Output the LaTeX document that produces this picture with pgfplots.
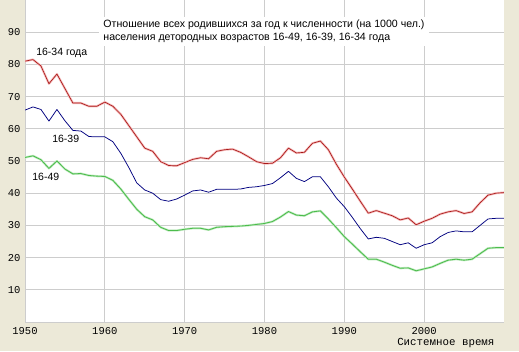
\documentclass[border=0pt]{standalone}
\usepackage{fontspec}
\setmainfont{Liberation Sans}
\setmonofont{Liberation Mono}
\usepackage{pgfplots}
\pgfplotsset{compat=1.18}
\usepackage{pgfplotstable}
\definecolor{bg}{HTML}{ECE9D8}
\definecolor{gridc}{HTML}{CDCDCD}
\definecolor{redc}{HTML}{A81818}
\definecolor{redglow}{HTML}{F6BCBC}
\definecolor{bluec}{HTML}{000080}
\definecolor{greenc}{HTML}{4CBC4C}
\definecolor{greenglow}{HTML}{C4ECC4}
\pgfplotstableread{
year r b g
1950 81.0 65.8 51.1
1951 81.5 66.8 51.6
1952 79.5 66.0 50.4
1953 74.0 62.4 47.7
1954 77.0 66.0 50.0
1955 72.5 62.5 47.5
1956 68.0 59.5 46.0
1957 68.0 59.3 46.1
1958 67.0 57.6 45.5
1959 67.0 57.5 45.3
1960 68.3 57.5 45.2
1961 67.0 56.0 44.0
1962 64.5 52.4 41.3
1963 61.0 48.0 38.1
1964 57.5 43.2 35.0
1965 54.0 41.0 32.7
1966 53.0 40.0 31.7
1967 49.8 38.0 29.4
1968 48.6 37.5 28.4
1969 48.5 38.2 28.4
1970 49.5 39.4 28.8
1971 50.5 40.7 29.1
1972 51.0 41.0 29.1
1973 50.7 40.3 28.6
1974 53.0 41.2 29.4
1975 53.5 41.2 29.6
1976 53.7 41.2 29.7
1977 52.7 41.3 29.8
1978 51.3 41.8 30.0
1979 49.8 42.0 30.3
1980 49.2 42.4 30.6
1981 49.3 43.0 31.2
1982 51.0 44.8 32.6
1983 54.0 46.8 34.3
1984 52.5 44.6 33.2
1985 52.7 43.6 33.0
1986 55.5 45.1 34.2
1987 56.2 45.1 34.5
1988 53.5 42.0 32.0
1989 49.0 38.5 29.3
1990 45.0 35.8 26.5
1991 41.3 32.5 24.2
1992 37.5 29.0 21.8
1993 33.8 25.8 19.5
1994 34.6 26.3 19.5
1995 33.8 26.0 18.6
1996 33.0 25.0 17.6
1997 31.7 24.0 16.7
1998 32.3 24.6 16.8
1999 30.2 22.9 15.9
2000 31.3 24.0 16.5
2001 32.2 24.6 17.1
2002 33.5 26.5 18.2
2003 34.2 27.8 19.2
2004 34.6 28.3 19.5
2005 33.7 28.0 19.2
2006 34.2 28.0 19.5
2007 37.0 30.0 21.2
2008 39.4 32.0 22.9
2009 40.0 32.2 23.1
2010 40.2 32.2 23.1
}\data
\begin{document}
\begin{tikzpicture}
\fill[bg] (0,0) rectangle (519pt,351pt);
\useasboundingbox (0,0) rectangle (519pt,351pt);
\begin{axis}[
  at={(25pt,29pt)}, anchor=south west,
  scale only axis, width=479pt, height=322pt,
  xmin=1950, xmax=2010, ymin=0, ymax=100,
  axis background/.style={fill=white},
  axis x line=bottom, axis y line=left,
  axis line style={-, draw=gridc, line width=1pt},
  xtick={1950,1960,...,2000}, ytick={10,20,...,90},
  major tick length=0pt,
  grid=major, major grid style={draw=gridc, line width=0.85pt},
  /pgf/number format/assume math mode=true,
  /pgf/number format/set thousands separator={},
  ticklabel style={font=\fontsize{10.5}{12}\ttfamily},
  xticklabel style={yshift=-2pt},
  yticklabel style={xshift=-1pt},
  clip=true,
]
\node[fill=white, inner xsep=4pt, inner ysep=3pt, anchor=north west, align=left,
  font=\fontsize{10.6}{13}\selectfont] at (axis cs:1959.3,94.9)
  {Отношение всех родившихся за год к численности (на 1000 чел.)\\населения детородных возрастов 16-49, 16-39, 16-34 года};
\addplot[draw=redglow, line width=2.2pt, line join=round] table[x=year,y=r]{\data};
\addplot[draw=redc, line width=0.65pt, line join=round] table[x=year,y=r]{\data};
\addplot[draw=bluec, line width=0.75pt, line join=round] table[x=year,y=b]{\data};
\addplot[draw=greenglow, line width=2.2pt, line join=round] table[x=year,y=g]{\data};
\addplot[draw=greenc, line width=0.85pt, line join=round] table[x=year,y=g]{\data};
\node[font=\fontsize{10.5}{12}\selectfont] at (axis cs:1954.6,83.5) {16-34 года};
\node[font=\fontsize{10.5}{12}\selectfont] at (axis cs:1955.1,56.8) {16-39};
\node[font=\fontsize{10.5}{12}\selectfont] at (axis cs:1952.6,45.0) {16-49};
\end{axis}
\node[font=\fontsize{10.8}{12}\ttfamily, anchor=east] at (498pt,8pt) {Системное время};
\end{tikzpicture}
\end{document}
